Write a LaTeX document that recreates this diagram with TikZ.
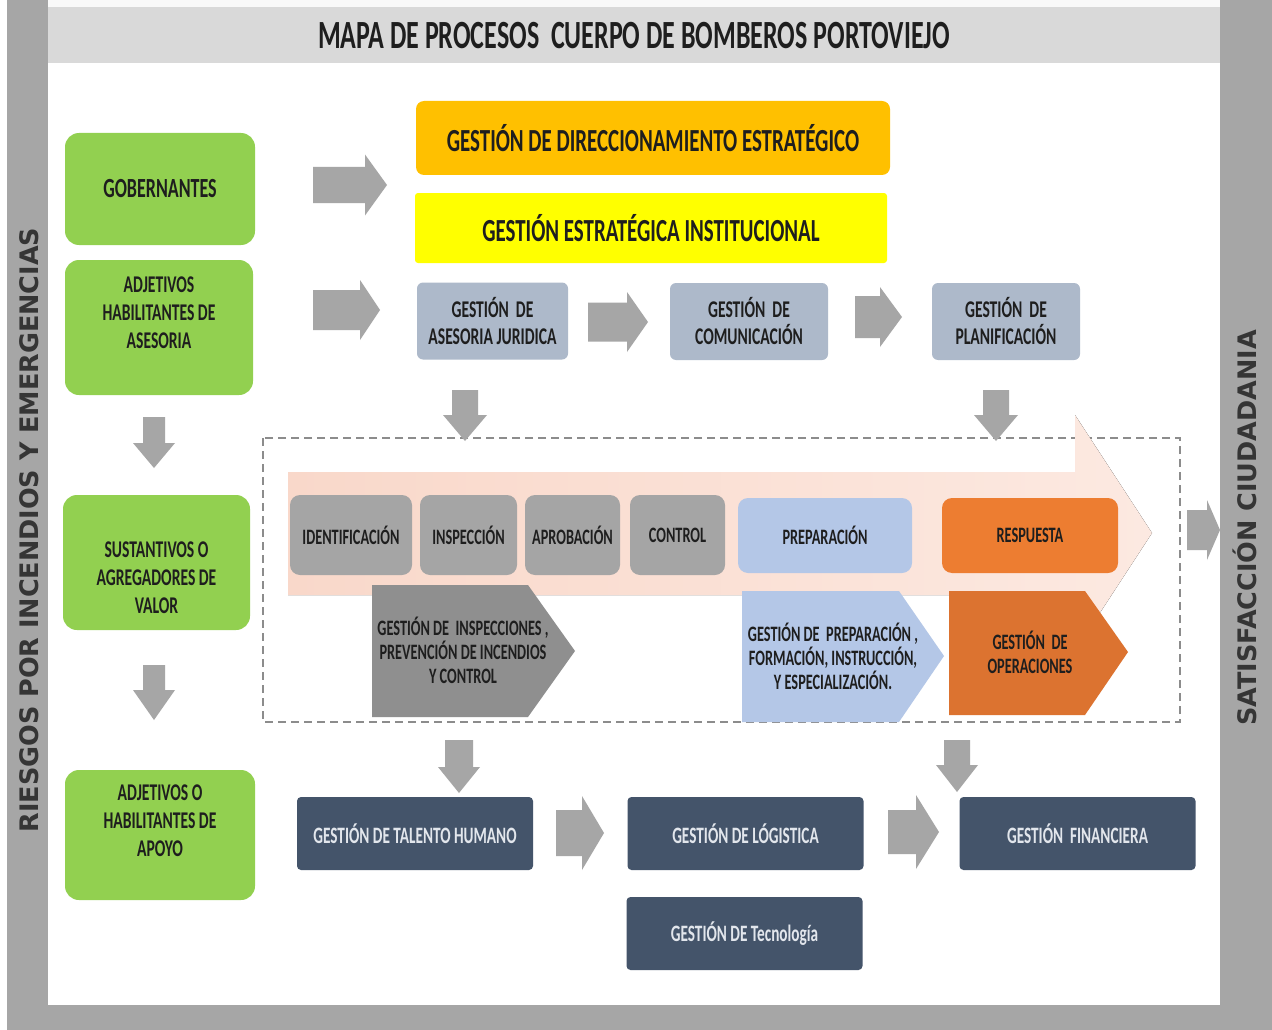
\documentclass[tikz,border=0pt]{standalone}
\usepackage{fontspec}
\newfontfamily\cfont{Carlito}[FakeStretch=0.65]
\newfontfamily\sfont{DejaVu Sans}
\definecolor{bandgray}{HTML}{A6A6A6}
\definecolor{titlegray}{HTML}{D9D9D9}
\definecolor{boxgreen}{HTML}{92D050}
\definecolor{gold}{HTML}{FFC000}
\definecolor{yel}{HTML}{FFFF00}
\definecolor{bgray}{HTML}{ADB9CA}
\definecolor{pgray}{HTML}{A5A5A5}
\definecolor{pentgray}{HTML}{8F8F8F}
\definecolor{lblue}{HTML}{B4C7E7}
\definecolor{orng}{HTML}{ED7D31}
\definecolor{dorng}{HTML}{DC7330}
\definecolor{slate}{HTML}{44546A}
\definecolor{arrgray}{HTML}{A6A6A6}
\definecolor{pinkL}{HTML}{F9D8CA}
\definecolor{pinkR}{HTML}{FCE9E1}
\definecolor{txtdark}{HTML}{1E1E1E}
\definecolor{txtlight}{HTML}{E2E6EC}
\definecolor{dashgray}{HTML}{8C8C8C}
% horizontal block arrow: x1, x2(tip), yc, body half, head half, head length
\newcommand\HArr[6]{\fill[arrgray] (#1,#3-#4) -- (#2-#6,#3-#4) -- (#2-#6,#3-#5) -- (#2,#3) -- (#2-#6,#3+#5) -- (#2-#6,#3+#4) -- (#1,#3+#4) -- cycle;}
% vertical block arrow: y1, y2(tip), xc, body half, head half, head length
\newcommand\VArr[6]{\fill[arrgray] (#3-#4,#1) -- (#3-#4,#2-#6) -- (#3-#5,#2-#6) -- (#3,#2) -- (#3+#5,#2-#6) -- (#3+#4,#2-#6) -- (#3+#4,#1) -- cycle;}
\begin{document}
\begin{tikzpicture}[x=1pt,y=-1pt,
  every node/.style={inner sep=0pt, align=center, text=txtdark},
  gbox/.style={fill=boxgreen, rounded corners=14pt},
  fgob/.style={font=\cfont\bfseries\fontsize{27.7}{28}\selectfont},
  fgreen/.style={font=\cfont\bfseries\fontsize{24}{28}\selectfont},
  fbig/.style={font=\cfont\bfseries\fontsize{32.2}{34}\selectfont},
  fmid/.style={font=\cfont\bfseries\fontsize{24}{27}\selectfont},
  fproc/.style={font=\cfont\bfseries\fontsize{22}{24}\selectfont},
  fpent/.style={font=\cfont\bfseries\fontsize{22}{24}\selectfont},
  fdark/.style={font=\cfont\bfseries\fontsize{23.5}{25}\selectfont, text=txtlight},
  fside/.style={font=\sfont\bfseries\fontsize{25.5}{30}\selectfont, text=txtdark!90!white},
  procbox/.style={fill=pgray, rounded corners=10pt, minimum height=80pt, fproc},
  darkbox/.style={fill=slate, rounded corners=4pt, minimum width=236pt, minimum height=73pt, fdark},
  bgbox/.style={fill=bgray, rounded corners=6pt, minimum height=77pt, fmid}
]
\useasboundingbox (0,0) rectangle (1272,1030);
% background frame
\fill[white] (0,0) rectangle (1272,1030);
\fill[bandgray] (7,0) rectangle (1272,1030);
\fill[white] (48,63) rectangle (1220,1005);
\fill[titlegray] (48,7) rectangle (1220,63);
\fill[white!85!titlegray] (48,0) rectangle (1220,7);
\node[font=\cfont\bfseries\fontsize{40}{44}\selectfont] (title) at (634,36) {MAPA DE PROCESOS\ \ CUERPO DE BOMBEROS PORTOVIEJO};
\node[fside, rotate=90] (riesgos) at (29,530) {RIESGOS POR INCENDIOS Y EMERGENCIAS};
\node[fside, rotate=90] (satis) at (1245,528) {SATISFACCIÓN CIUDADANIA};

% green column
\node[gbox, minimum width=190pt, minimum height=112pt, fgob] (gob) at (160,189) {GOBERNANTES};
\node[gbox, minimum width=188pt, minimum height=135pt] (ase) at (159,327.5) {};
\node[fgreen] (aseT) at (159,313) {ADJETIVOS\\HABILITANTES DE\\ASESORIA};
\node[gbox, minimum width=187pt, minimum height=135pt] (sus) at (156.5,562.5) {};
\node[fgreen] (susT) at (156.5,578) {SUSTANTIVOS O\\AGREGADORES DE\\VALOR};
\node[gbox, minimum width=190pt, minimum height=130pt] (apo) at (160,835) {};
\node[fgreen] (apoT) at (160,821) {ADJETIVOS O\\HABILITANTES DE\\APOYO};
\VArr{417}{468}{154}{11}{21}{25}
\VArr{665}{720}{154}{11}{21}{30}

% strategic
\node[fill=gold, rounded corners=8pt, minimum width=474pt, minimum height=74pt, fbig] (dir) at (653,138) {GESTIÓN DE DIRECCIONAMIENTO ESTRATÉGICO};
\node[fill=yel, rounded corners=3pt, minimum width=472pt, minimum height=70pt, fbig] (inst) at (651,228) {GESTIÓN ESTRATÉGICA INSTITUCIONAL};
\HArr{313}{387}{185}{18}{30.5}{22}
\HArr{313}{380}{310}{20}{30}{20}

\node[bgbox, minimum width=151pt] (jur) at (492.5,321) {GESTIÓN\ \ DE\\ASESORIA JURIDICA};
\node[bgbox, minimum width=158pt] (com) at (749,321.5) {GESTIÓN\ \ DE\\COMUNICACIÓN};
\node[bgbox, minimum width=148pt] (pla) at (1006,321.5) {GESTIÓN\ \ DE\\PLANIFICACIÓN};
\HArr{588}{648}{322}{19.5}{30}{21}
\HArr{855}{902}{317}{21}{30}{22}

% value chain
\draw[dashgray, line width=1.3pt, dash pattern=on 8pt off 5pt] (263,438) rectangle (1180,722);
\fill[left color=pinkL, right color=pinkR] (288,472) -- (1075,472) -- (1075,415) -- (1152,533) -- (1075,651) -- (1075,595) -- (288,595) -- cycle;
\VArr{390}{441}{465}{13}{22}{26}
\VArr{390}{441}{996}{13}{22}{26}

\node[procbox, minimum width=122pt] (idf) at (351,535) {IDENTIFICACIÓN};
\node[procbox, minimum width=97pt] (ins) at (468.5,535) {INSPECCIÓN};
\node[procbox, minimum width=95pt] (apr) at (572.5,535) {APROBACIÓN};
\node[procbox, minimum width=95pt] (ctl) at (677.5,535) {CONTROL};
\node[procbox, fill=lblue, minimum width=174pt, minimum height=75pt] (prep) at (825,535.5) {PREPARACIÓN};
\node[procbox, fill=orng, minimum width=176pt, minimum height=75pt] (resp) at (1030,535.5) {RESPUESTA};

\fill[pentgray] (372,585) -- (528,585) -- (575,651) -- (528,717) -- (372,717) -- cycle;
\node[fpent] (pinsp) at (463,650) {GESTIÓN DE\ \ INSPECCIONES ,\\PREVENCIÓN DE INCENDIOS\\Y CONTROL};
\fill[lblue] (742,591) -- (899,591) -- (944,656) -- (899,722) -- (742,722) -- cycle;
\node[fpent] (pprep) at (833,656) {GESTIÓN DE\ \ PREPARACIÓN ,\\FORMACIÓN, INSTRUCCIÓN,\\Y ESPECIALIZACIÓN.};
\fill[dorng] (949,591) -- (1085,591) -- (1128,652) -- (1085,715) -- (949,715) -- cycle;
\node[fpent] (pops) at (1030,652) {GESTIÓN\ \ DE\\OPERACIONES};
\HArr{1187}{1220}{530}{20}{30}{13}

% support
\VArr{740}{793}{459}{14}{21}{26}
\VArr{740}{792}{957}{13}{21}{27}
\node[darkbox] (th) at (415,833.5) {GESTIÓN\ DE TALENTO HUMANO};
\node[darkbox] (log) at (745.5,833.5) {GESTIÓN DE LÓGISTICA};
\node[darkbox] (fin) at (1077.5,833.5) {GESTIÓN\ \ FINANCIERA};
\node[darkbox] (tec) at (744.5,933.5) {GESTIÓN\ DE Tecnología};
\HArr{556}{604}{833}{23}{37}{22}
\HArr{888}{939}{832}{22}{37}{23}
\end{tikzpicture}
\end{document}
